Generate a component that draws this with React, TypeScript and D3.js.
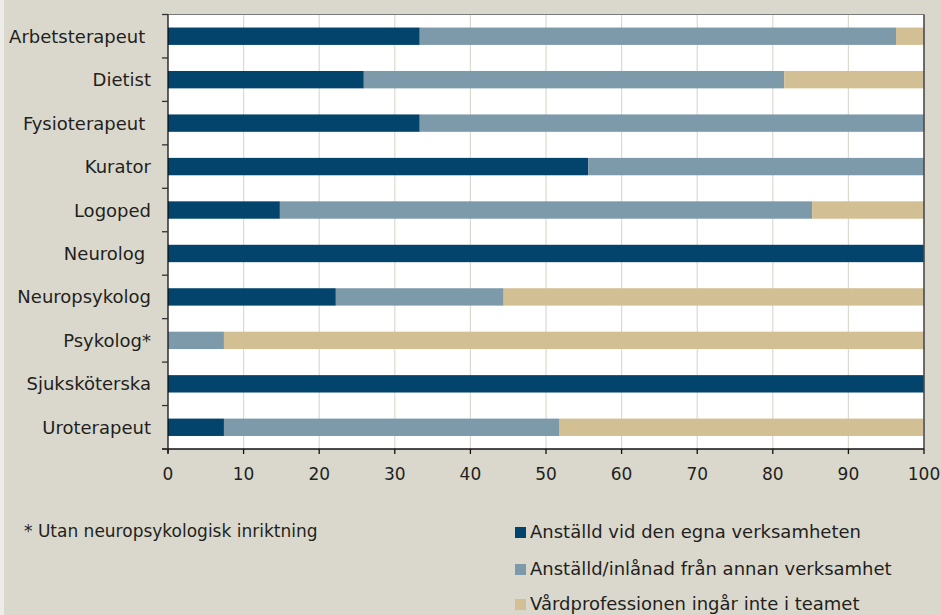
import React from "react";
import * as d3 from "d3";

const categories = [
  "Arbetsterapeut ",
  "Dietist",
  "Fysioterapeut ",
  "Kurator",
  "Logoped",
  "Neurolog ",
  "Neuropsykolog",
  "Psykolog*",
  "Sjuksköterska",
  "Uroterapeut",
];

const egna = [33.3, 25.9, 33.3, 55.6, 14.8, 100, 22.2, 0, 100, 7.4];
const annan = [63.0, 55.6, 66.7, 44.4, 70.4, 0, 22.2, 7.4, 0, 44.4];
const ingarInte = [3.7, 18.5, 0, 0, 14.8, 0, 55.6, 92.6, 0, 48.1];

const seriesNames = [
  "Anställd vid den egna verksamheten",
  "Anställd/inlånad från annan verksamhet",
  "Vårdprofessionen ingår inte i teamet",
];
const seriesColors = ["#02446c", "#7d9aab", "#d3bf94"];

const xTicks = [0, 10, 20, 30, 40, 50, 60, 70, 80, 90, 100];
const footnote = "* Utan neuropsykologisk inriktning";

const W = 941;
const H = 615;
const FONT = "'DejaVu Sans', sans-serif";
const TEXT = "#231f20";

export default function App() {
  const x = d3.scaleLinear().domain([0, 100]).range([168, 924]);
  const y = d3
    .scaleBand<string>()
    .domain(categories)
    .range([14.5, 449])
    .paddingInner(0.6)
    .paddingOuter(0.3);

  const rows = categories.map((c, i) => [egna[i], annan[i], ingarInte[i]]);
  const stack = d3.stack<number[]>().keys(["0", "1", "2"]).value((d, k) => d[+k]);
  const layers = stack(rows);

  const step = y.step();
  const top = 14.5;
  const bottom = 449;
  const boundaries = d3.range(categories.length + 1).map((i) => top + i * step);

  return (
    <svg
      width={W}
      height={H}
      style={{ position: "absolute", left: 0, top: 0, display: "block" }}
      fontFamily={FONT}
    >
      <rect x={0} y={0} width={W} height={H} fill="#dad8cc" />
      <rect x={0} y={0} width={4} height={H} fill="#eeece6" />
      <rect x={x(0)} y={top} width={x(100) - x(0)} height={bottom - top} fill="#ffffff" />

      {xTicks.slice(1, -1).map((t) => (
        <line key={t} x1={x(t)} x2={x(t)} y1={top} y2={bottom} stroke="#dcd9cf" strokeWidth={1.2} />
      ))}

      {layers.map((layer, li) =>
        layer.map((d, i) =>
          d[1] - d[0] > 0 ? (
            <rect
              key={`${li}-${i}`}
              x={x(d[0])}
              y={y(categories[i])!}
              width={x(d[1]) - x(d[0])}
              height={y.bandwidth()}
              fill={seriesColors[li]}
            />
          ) : null
        )
      )}

      {/* plot frame */}
      <line x1={x(0)} x2={x(100)} y1={top} y2={top} stroke="#7a7a7a" strokeWidth={1.2} />
      <line x1={x(100)} x2={x(100)} y1={top} y2={bottom} stroke="#4a4a4a" strokeWidth={1.6} />
      <line x1={x(0)} x2={x(0)} y1={top} y2={bottom + 4} stroke="#111" strokeWidth={1.3} />
      <line x1={x(0) - 6} x2={x(100)} y1={bottom} y2={bottom} stroke="#111" strokeWidth={1.3} />

      {boundaries.map((b, i) => (
        <line key={i} x1={x(0) - 6} x2={x(0)} y1={b} y2={b} stroke="#333" strokeWidth={1.3} />
      ))}
      {xTicks.map((t) => (
        <line key={t} x1={x(t)} x2={x(t)} y1={bottom} y2={bottom + 5} stroke="#111" strokeWidth={1.3} />
      ))}

      {categories.map((c) => (
        <text
          key={c}
          x={151}
          y={y(c)! + y.bandwidth() / 2}
          dy="0.36em"
          textAnchor="end"
          fontSize={18}
          fill={TEXT}
          style={{ whiteSpace: "pre" }}
        >
          {c}
        </text>
      ))}

      {xTicks.map((t) => (
        <text key={t} x={x(t)} y={480} textAnchor="middle" fontSize={17} fill={TEXT}>
          {t}
        </text>
      ))}

      <text x={24} y={537} fontSize={17} fill={TEXT}>
        {footnote}
      </text>

      {seriesNames.map((s, i) => {
        const base = [538, 575, 610][i];
        return (
          <g key={s}>
            <rect x={515} y={base - 11} width={11} height={11} fill={seriesColors[i]} />
            <text x={530} y={base} fontSize={18} fill={TEXT}>
              {s}
            </text>
          </g>
        );
      })}
    </svg>
  );
}
